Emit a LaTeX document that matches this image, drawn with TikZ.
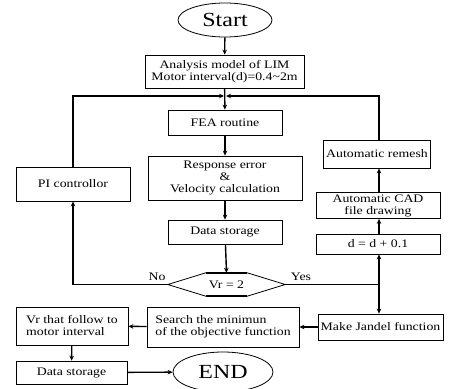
\documentclass[tikz,border=0pt]{standalone}
\usepackage{fontspec}
\setmainfont{Liberation Serif}[FakeStretch=1.2]
\usetikzlibrary{shapes.geometric,arrows.meta}

\tikzset{
	blk/.style={draw, line width=0.8pt, inner sep=0pt, align=center, font=\fontsize{11.5}{12}\selectfont},
	oval/.style={draw, ellipse, line width=0.8pt, inner sep=0pt, font=\fontsize{20}{20}\selectfont},
	lbl/.style={inner sep=0pt, font=\fontsize{11.5}{12}\selectfont},
	flow/.style={line width=1.4pt},
}

\begin{document}
\begin{tikzpicture}[x=1pt,y=-1pt,>={Stealth[length=5pt,width=4.5pt]}]
	\useasboundingbox (0,0) rectangle (449,388);

	% main column
	\node[oval, minimum width=94pt, minimum height=34pt] (start) at (225,20) {Start};
	\node[blk, minimum width=159pt, minimum height=33pt] (ana) at (224.5,71.5) {Analysis model of LIM\\Motor interval(d)=0.4\textasciitilde 2m};
	\node[blk, minimum width=114pt, minimum height=25pt] (fea) at (225,122.5) {FEA routine};
	\node[blk, minimum width=154pt, minimum height=44pt] (resp) at (225,178) {Response error\\\&\\Velocity calculation};
	\node[blk, minimum width=114pt, minimum height=24pt] (ds1) at (225,232) {Data storage};
	\node[lbl, minimum width=117pt, minimum height=23pt] (vr) at (226.5,284.5) {Vr = 2};
	\draw[line width=0.8pt] (vr.west) -- ([xshift=38pt]vr.north west) -- ([xshift=-38pt]vr.north east)
		-- (vr.east) -- ([xshift=-38pt]vr.south east) -- ([xshift=38pt]vr.south west) -- cycle;
	\draw[line width=1.6pt] ([xshift=38pt]vr.north west) -- ([xshift=-38pt]vr.north east);
	\draw[line width=1.6pt] ([xshift=38pt]vr.south west) -- ([xshift=-38pt]vr.south east);
	\node[lbl] (no) at (157,277) {No};
	\node[lbl] (yes) at (301,277) {Yes};

	% side boxes
	\node[blk, minimum width=114pt, minimum height=34pt] (pi) at (73,184) {PI controllor};
	\node[blk, minimum width=107pt, minimum height=28pt] (remesh) at (377,154) {Automatic remesh};
	\node[blk, minimum width=124pt, minimum height=26pt] (cad) at (378,205.5) {Automatic CAD\\file drawing};
	\node[blk, minimum width=124pt, minimum height=20pt] (dd) at (378,244) {d = d + 0.1};

	% bottom row
	\node[blk, minimum width=125pt, minimum height=26pt] (jan) at (380.5,327) {Make Jandel function};
	\node[blk, align=left, minimum width=152pt, minimum height=40pt] (search) at (223,327) {Search the minimun\\of the objective function};
	\node[blk, align=left, minimum width=112pt, minimum height=38pt] (vrf) at (72,326) {Vr that follow to\\motor interval};
	\node[blk, minimum width=111pt, minimum height=23pt] (ds2) at (71.5,372.5) {Data storage};
	\node[oval, minimum width=100pt, minimum height=40pt] (end) at (223,372) {END};

	\coordinate (mrg) at (225,96);
	\coordinate (split) at (379,284.5);

	\draw[flow,->] (start) -- (ana);
	\draw[flow,->] (ana) -- (fea);
	\draw[flow,->] (fea) -- (resp);
	\draw[flow,->] (resp) -- (ds1);
	\draw[flow,->] (ds1) -- (vr.north);

	\draw[flow,->] (vr.west) -| (pi.south);
	\draw[flow,->] (pi.north) |- ([xshift=-1pt]mrg);
	\draw[flow] (vr.east) -- (split);
	\draw[flow,->] (split) -- (dd.south -| split);
	\draw[flow,->] (split) -- (jan.north -| split);
	\draw[flow,->] (dd.north -| split) -- (cad.south -| split);
	\draw[flow,->] (cad.north -| split) -- (remesh.south -| split);
	\draw[flow,->] (remesh.north -| split) |- ([xshift=1pt]mrg);

	\draw[flow,->] (jan) -- (search);
	\draw[flow,->] (search) -- (vrf);
	\draw[flow,->] (vrf) -- (ds2);
	\draw[flow,->] (ds2) -- (end);
\end{tikzpicture}
\end{document}
